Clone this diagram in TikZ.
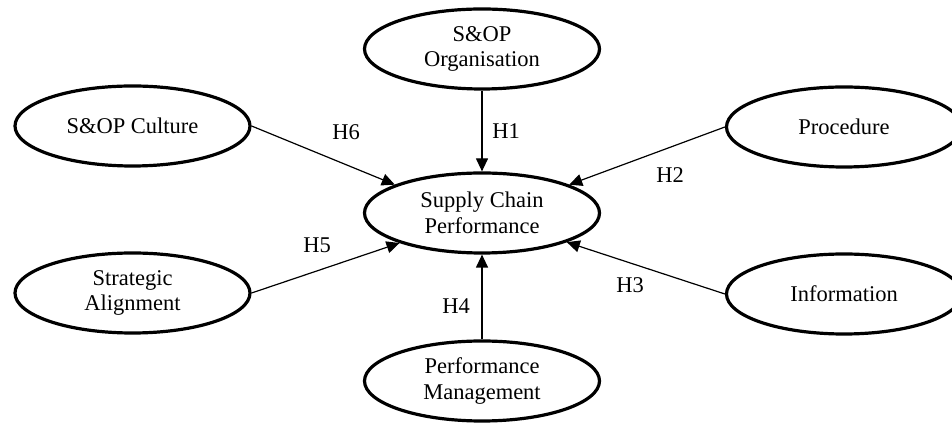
\documentclass[tikz,border=0pt]{standalone}
\usepackage{fontspec}
\setmainfont{Liberation Serif}
\usetikzlibrary{arrows.meta,shapes.geometric}

\begin{document}
\begin{tikzpicture}[x=0.5pt,y=-0.5pt,
  construct/.style={draw,ellipse,line width=1.6pt,minimum width=117.5pt,minimum height=40pt,inner sep=0pt,align=center,font=\fontsize{11.25}{12.9}\selectfont},
  link/.style={-{Triangle[length=6.5pt,width=6pt]},line width=0.6pt},
  hyp/.style={inner sep=0pt,font=\fontsize{11.25}{12.9}\selectfont}]
\useasboundingbox (0,0) rectangle (952,426);
\node[construct] (org) at (482,49) {S\&OP\\Organisation};
\node[construct] (culture) at (132.5,126) {S\&OP Culture};
\node[construct] (proc) at (844,127) {Procedure};
\node[construct] (scp) at (482,213) {Supply Chain\\Performance};
\node[construct] (strat) at (132.5,293) {Strategic\\Alignment};
\node[construct] (info) at (844,294) {Information};
\node[construct] (pm) at (482,381) {Performance\\Management};
\draw[link] (org.south) -- (scp.north);
\draw[link] (proc.west) -- (scp.18);
\draw[link] (info.west) -- (scp.341);
\draw[link] (pm.north) -- (scp.south);
\draw[link] (strat.east) -- (scp.200);
\draw[link] (culture.east) -- (scp.162);
\node[hyp] (h1) at (506,131) {H1};
\node[hyp] (h2) at (670,175) {H2};
\node[hyp] (h3) at (630,285) {H3};
\node[hyp] (h4) at (456,306) {H4};
\node[hyp] (h5) at (317,245) {H5};
\node[hyp] (h6) at (346,132) {H6};
\end{tikzpicture}
\end{document}
